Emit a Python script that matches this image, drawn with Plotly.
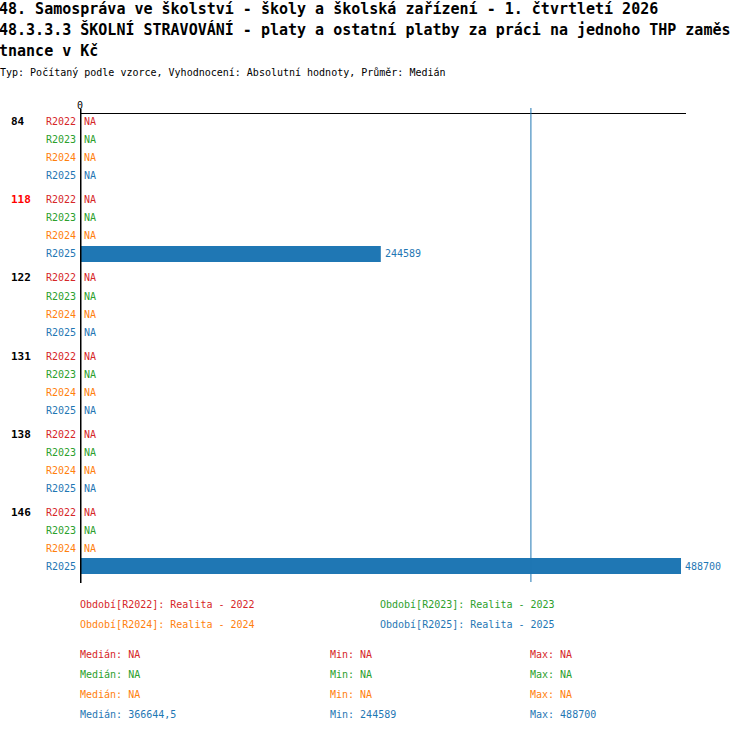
import plotly.graph_objects as go
import numpy as np

title_lines = ["48. Samospráva ve školství - školy a školská zařízení - 1. čtvrtletí 2026",
               "48.3.3.3 ŠKOLNÍ STRAVOVÁNÍ - platy a ostatní platby za práci na jednoho THP zaměs",
               "tnance v Kč"]
subtitle = "Typ: Počítaný podle vzorce, Vyhodnocení: Absolutní hodnoty, Průměr: Medián"
groups = ["84", "118", "122", "131", "138", "146"]
highlighted = "118"
periods = ["R2022", "R2023", "R2024", "R2025"]
period_names = ["Realita - 2022", "Realita - 2023", "Realita - 2024", "Realita - 2025"]
colors = ["#d62728", "#2ca02c", "#ff7f0e", "#1f77b4"]
r2022 = [None, None, None, None, None, None]
r2023 = [None, None, None, None, None, None]
r2024 = [None, None, None, None, None, None]
r2025 = [None, 244589, None, None, None, 488700]
series = [r2022, r2023, r2024, r2025]

FONT = "DejaVu Sans Mono"
W, H = 750, 732
L, R, T, B = 80, 686, 114, 583  # plot area in pixels
def px(x): return (x - L) / (R - L)
def py(y): return (B - y) / (B - T)
def row(g, k): return g * 13 + k * 3  # row position, 6px per unit

fig = go.Figure()
ann = []
for k, (p, vals) in enumerate(zip(periods, series)):
    ys = [row(g, k) for g in range(len(groups))]
    fig.add_trace(go.Bar(x=[v if v is not None else 0 for v in vals], y=ys, orientation='h',
                         width=2.67, marker=dict(color=colors[k], line=dict(width=0)),
                         showlegend=False, hoverinfo='skip'))
    for g, v in enumerate(vals):
        ann.append(dict(x=0, y=ys[g], xref='x', yref='y', text=p, xanchor='right', xshift=-2,
                        showarrow=False, font=dict(family=FONT, size=10, color=colors[k])))
        ann.append(dict(x=v if v is not None else 0, y=ys[g], xref='x', yref='y',
                        text=str(v) if v is not None else "NA", xanchor='left', xshift=2,
                        showarrow=False, font=dict(family=FONT, size=10, color=colors[k])))

for g, name in enumerate(groups):
    ann.append(dict(x=px(9), y=row(g, 0), xref='paper', yref='y', text="<b>%s</b>" % name,
                    xanchor='left', showarrow=False,
                    font=dict(family=FONT, size=11, color="#ff0000" if name == highlighted else "black")))

# title
for i, line in enumerate(title_lines):
    ann.append(dict(x=px(0), y=py(9 + 21 * i), xref='paper', yref='paper', text="<b>%s</b>" % line,
                    xanchor='left', yanchor='middle', xshift=-3, showarrow=False,
                    font=dict(family=FONT, size=15, color="black")))
ann.append(dict(x=px(0), y=py(73), xref='paper', yref='paper', text=subtitle, xanchor='left',
                yanchor='middle', xshift=-2, showarrow=False, font=dict(family=FONT, size=10, color="black")))

# legend of periods
for k, p in enumerate(periods):
    ann.append(dict(x=px(80 + 300 * (k % 2)), y=py(604 + 20 * (k // 2)), xref='paper', yref='paper',
                    text="Období[%s]: %s" % (p, period_names[k]), xanchor='left', yanchor='middle',
                    xshift=-2, showarrow=False, font=dict(family=FONT, size=10, color=colors[k])))

# stats
def fmt(v):
    if v is None: return "NA"
    s = ("%.1f" % v).rstrip('0').rstrip('.')
    return s.replace('.', ',')
all_vals = []
for k, vals in enumerate(series):
    vv = [v for v in vals if v is not None]
    all_vals += vv
    med = float(np.median(vv)) if vv else None
    mn = min(vv) if vv else None
    mx = max(vv) if vv else None
    for x0, lab, v in [(80, "Medián", med), (330, "Min", mn), (530, "Max", mx)]:
        ann.append(dict(x=px(x0), y=py(654 + 20 * k), xref='paper', yref='paper', text="%s: %s" % (lab, fmt(v)),
                        xanchor='left', yanchor='middle', xshift=-2, showarrow=False,
                        font=dict(family=FONT, size=10, color=colors[k])))

overall_median = float(np.median(all_vals))
xmax = max(all_vals) * 1.0083

shapes = [
    dict(type='line', xref='x', yref='paper', x0=overall_median, x1=overall_median, y0=py(108), y1=py(582),
         line=dict(color="#1f77b4", width=1)),
    dict(type='line', xref='x', yref='paper', x0=0, x1=0, y0=py(109), y1=py(583),
         line=dict(color="black", width=3)),
]

fig.update_layout(
    width=W, height=H, margin=dict(l=L, r=W - R, t=T, b=H - B),
    plot_bgcolor='white', paper_bgcolor='white', barmode='overlay',
    annotations=ann, shapes=shapes,
    xaxis=dict(range=[0, xmax], side='top', showline=True, linecolor='black', linewidth=1,
               showgrid=False, zeroline=False, tickvals=[0], ticktext=["0"], ticks='',
               tickfont=dict(family=FONT, size=10, color='black')),
    yaxis=dict(range=[76.83, -1.33], showgrid=False, zeroline=False, showticklabels=False,
               showline=False, ticks=''),
)
fig.write_html("out.html", config={'displayModeBar': False},
               post_script="document.body.style.margin='0';")
